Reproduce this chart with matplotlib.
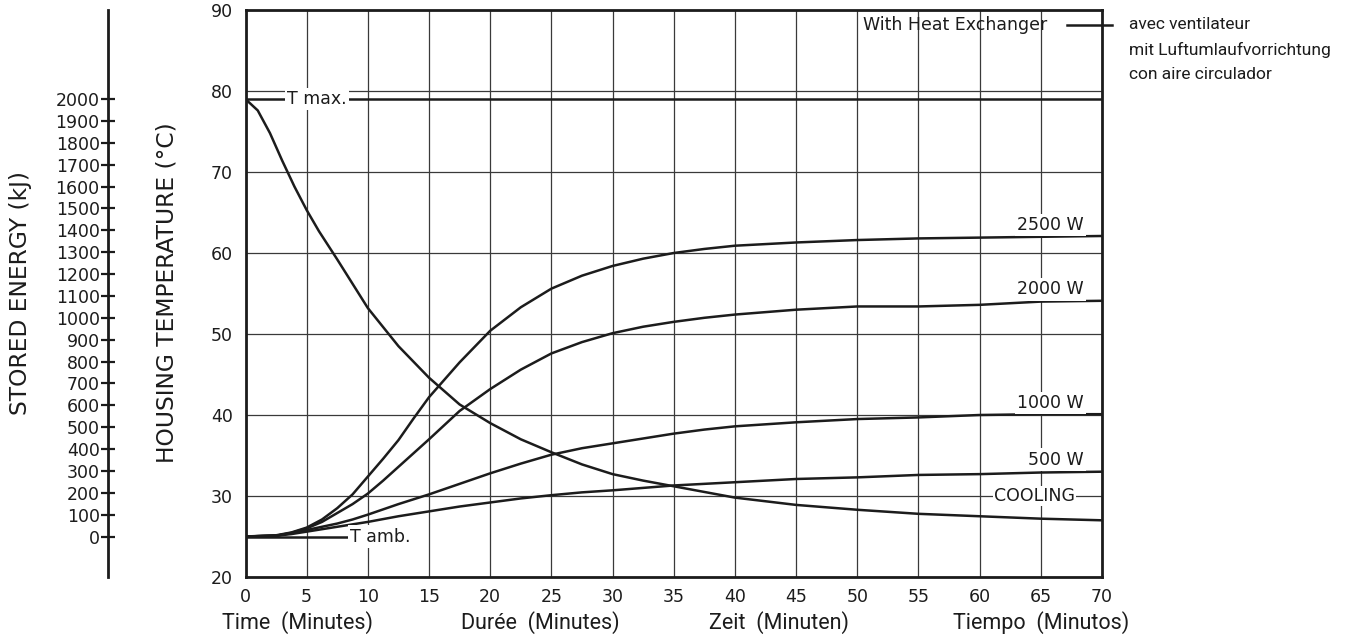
import numpy as np
import matplotlib
matplotlib.use("Agg")
import matplotlib.pyplot as plt

# --- data --- #

heat_minutes = [0, 2.5, 3.75, 5, 6.25, 7.5, 8.75, 10, 11.25, 12.5, 13.75, 15,
                17.5, 20, 22.5, 25, 27.5, 30, 32.5, 35, 37.5, 40, 45, 50, 55,
                60, 65, 70]
temp_500w = [25.0, 25.1, 25.3, 25.6, 25.9, 26.2, 26.5, 26.8, 27.15, 27.5, 27.8,
             28.1, 28.7, 29.2, 29.7, 30.1, 30.45, 30.7, 31.0, 31.3, 31.5, 31.7,
             32.1, 32.3, 32.6, 32.7, 32.9, 33.0]
temp_1000w = [25.0, 25.1, 25.4, 25.8, 26.2, 26.6, 27.1, 27.7, 28.35, 29.0, 29.6,
              30.2, 31.5, 32.8, 34.0, 35.1, 35.9, 36.5, 37.1, 37.7, 38.2, 38.6,
              39.1, 39.5, 39.7, 40.0, 40.1, 40.1]
temp_2000w = [25.0, 25.1, 25.45, 26.0, 26.8, 27.9, 29.0, 30.3, 31.9, 33.6, 35.3,
              37.0, 40.5, 43.2, 45.6, 47.6, 49.0, 50.1, 50.9, 51.5, 52.0, 52.4,
              53.0, 53.4, 53.4, 53.6, 54.0, 54.1]
temp_2500w = [25.0, 25.15, 25.5, 26.1, 27.1, 28.5, 30.2, 32.4, 34.6, 36.9, 39.6,
              42.2, 46.5, 50.4, 53.3, 55.6, 57.2, 58.4, 59.3, 60.0, 60.5, 60.9,
              61.3, 61.6, 61.8, 61.9, 62.0, 62.1]

cool_minutes = [0, 1, 2, 3, 4, 5, 6, 7.5, 9, 10, 12.5, 15, 17.5, 20, 22.5, 25,
                27.5, 30, 32.5, 35, 37.5, 40, 45, 50, 55, 60, 65, 70]
temp_cooling = [79.0, 77.6, 74.8, 71.4, 68.2, 65.3, 62.7, 59.2, 55.6, 53.2,
                48.5, 44.6, 41.3, 39.0, 37.0, 35.4, 33.9, 32.7, 31.9, 31.2,
                30.5, 29.8, 28.9, 28.3, 27.8, 27.5, 27.2, 27.0]

heat_series = [temp_500w, temp_1000w, temp_2000w, temp_2500w]
heat_labels = ["500 W", "1000 W", "2000 W", "2500 W"]
heat_label_temp = [34.5, 41.5, 55.5, 63.5]

t_max = 79
t_amb = 25
t_amb_end = 8.5
energy_max = 2000          # kJ stored at T max

x_ticks = list(range(0, 71, 5))
y_ticks = list(range(20, 91, 10))
energy_ticks = list(range(0, 2001, 100))

bottom_labels = ["Time  (Minutes)", "Durée  (Minutes)",
                 "Zeit  (Minuten)", "Tiempo  (Minutos)"]
side_note = ["avec ventilateur", "mit Luftumlaufvorrichtung",
             "con aire circulador"]

# --- figure --- #

W, H = 1357, 640
plt.rcParams['font.family'] = ['DejaVu Sans']
fig = plt.figure(figsize=(W / 100, H / 100), dpi=100)


def px(x, y):
    return x / W, 1 - y / H


ink = "#1c1c1c"
left, top = px(245.5, 10)
right, bottom = px(1102, 577)
ax = fig.add_axes([left, bottom, right - left, top - bottom])

ax.set_xlim(0, 70)
ax.set_ylim(20, 90)
ax.set_xticks(x_ticks)
ax.set_yticks(y_ticks)
ax.grid(True, color="#3a3a3a", lw=0.9)
ax.set_axisbelow(True)
ax.tick_params(length=0, labelsize=12.5, labelcolor=ink)
ax.tick_params(axis="x", pad=8)
ax.tick_params(axis="y", pad=9)
for s in ax.spines.values():
    s.set_linewidth(2.0)
    s.set_color(ink)

lw = 1.8
for temps in heat_series:
    ax.plot(heat_minutes, temps, color=ink, lw=lw, solid_joinstyle="round")
ax.plot(cool_minutes, temp_cooling, color=ink, lw=lw, solid_joinstyle="round")

# T max / T amb reference lines
ax.plot([0, 70], [t_max, t_max], color=ink, lw=lw)
ax.plot([0, t_amb_end], [t_amb, t_amb], color=ink, lw=lw)

box = dict(boxstyle="square,pad=0.12", fc="white", ec="none")
ax.text(3.4, t_max, "T max.", fontsize=12.5, color=ink, ha="left",
        va="center", bbox=box)
ax.text(t_amb_end + 0.05, t_amb, "T amb.", fontsize=12.5, color=ink,
        ha="left", va="center", bbox=box)

for lab, yt in zip(heat_labels, heat_label_temp):
    ax.text(68.5, yt, lab, fontsize=12.5, color=ink, ha="right",
            va="center", bbox=box)
ax.text(64.5, 30, "COOLING", fontsize=12.5, color=ink, ha="center",
        va="center", bbox=dict(boxstyle="square,pad=0.05", fc="white", ec="none"))

ax.text(50.5, 88.2, "With Heat Exchanger", fontsize=12.5, color=ink,
        ha="left", va="center")
ax.plot([67.1, 70.85], [88.2, 88.2], color=ink, lw=lw, clip_on=False)


# stored energy scale, same height as the temperature axis
def t2e(t):
    return (np.asarray(t) - t_amb) * energy_max / (t_max - t_amb)


def e2t(e):
    return t_amb + np.asarray(e) * (t_max - t_amb) / energy_max


sec = ax.secondary_yaxis((108 - 245.5) / (1102 - 245.5), functions=(t2e, e2t))
sec.set_yticks(energy_ticks)
sec.tick_params(direction="inout", length=10, width=1.6, labelsize=12.5,
                labelcolor=ink, color=ink, pad=1)
sec.spines["left"].set_linewidth(2.0)
sec.spines["left"].set_color(ink)

# axis titles
fig.text(*px(21, 293), "STORED ENERGY (kJ)", rotation=90, fontsize=16.8,
         color=ink, ha="center", va="center")
fig.text(*px(167, 293), "HOUSING TEMPERATURE (°C)", rotation=90,
         fontsize=16.8, color=ink, ha="center", va="center")

for lab, xc in zip(bottom_labels, [298, 540, 779, 1041]):
    fig.text(*px(xc, 623), lab, fontsize=15.5, family="Roboto", color=ink,
             ha="center", va="center")

for line, yc in zip(side_note, [24.7, 50.2, 74.9]):
    fig.text(*px(1128.6, yc), line, fontsize=12.5, family="Roboto",
             color=ink, ha="left", va="center")

fig.savefig("out.png", dpi=100)
